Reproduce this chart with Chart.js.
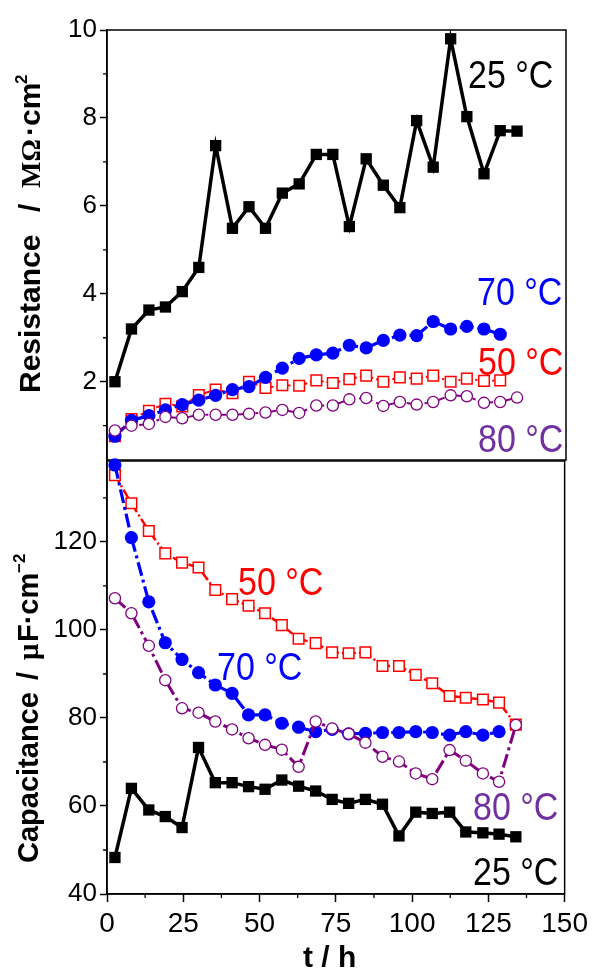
<!DOCTYPE html>
<html>
<head>
  <meta charset="utf-8" />
  <title>Resistance and capacitance vs. time</title>
  <script src="https://cdn.jsdelivr.net/npm/chart.js"></script>
  <style>
    html, body {
      margin: 0;
      padding: 0;
      background: #fff;
    }
    .wrap {
      position: relative;
      width: 593px;
      height: 970px;
    }
    .wrap canvas {
      position: absolute;
      left: 0;
      top: 0;
    }
  </style>
</head>
<body>
  <div class="wrap">
    <canvas id="topChart" width="593" height="970"></canvas>
    <canvas id="bottomChart" width="593" height="970"></canvas>
  </div>

  <script>
    // time axis (h), shared by all series
    const timeH = [2.6, 8, 13.7, 19.1, 24.6, 30, 35.5, 41, 46.4, 51.8, 57.3, 62.8, 68.4,
                   73.8, 79.2, 84.7, 90.3, 95.7, 101.2, 106.6, 112.3, 117.6, 123.2, 128.5, 134];

    // Resistance / MOhm.cm2
    const res25 = [2.0, 3.2, 3.63, 3.7, 4.05, 4.6, 7.37, 5.49, 5.98, 5.49, 6.29, 6.5, 7.17,
                   7.17, 5.53, 7.07, 6.47, 5.96, 7.94, 6.88, 9.8, 8.03, 6.73, 7.71, 7.7];
    const res50 = [0.76, 1.15, 1.34, 1.5, 1.44, 1.7, 1.82, 1.74, 2.0, 1.86, 1.92, 1.91, 2.03,
                   1.97, 2.06, 2.14, 2.0, 2.1, 2.07, 2.14, 2.0, 2.07, 2.02, 2.03];
    const res70 = [0.76, 1.12, 1.23, 1.36, 1.48, 1.58, 1.69, 1.82, 1.89, 2.1, 2.31, 2.53, 2.61,
                   2.65, 2.83, 2.77, 2.94, 3.06, 3.05, 3.37, 3.2, 3.26, 3.2, 3.08];
    const res80 = [0.89, 1.0, 1.04, 1.2, 1.17, 1.25, 1.25, 1.25, 1.27, 1.3, 1.36, 1.29, 1.46,
                   1.46, 1.6, 1.63, 1.45, 1.54, 1.48, 1.54, 1.69, 1.67, 1.52, 1.54, 1.64];

    // Capacitance / uF.cm-2
    const cap25 = [48.3, 64.0, 59.1, 57.6, 55.1, 73.3, 65.3, 65.3, 64.4, 63.8, 65.9, 64.5, 63.4,
                   61.5, 60.6, 61.5, 60.4, 53.2, 58.6, 58.3, 58.6, 54.1, 53.9, 53.6, 53.0];
    const cap50 = [135.2, 128.8, 122.5, 117.4, 115.3, 114.2, 109.1, 107.0, 105.5, 103.8, 101.1, 98.0, 97.0,
                   94.9, 94.7, 94.9, 91.8, 91.8, 89.8, 87.9, 85.0, 84.6, 84.2, 83.5, 78.5];
    const cap70 = [137.5, 121.0, 106.4, 97.1, 93.3, 90.3, 87.5, 85.6, 80.7, 80.7, 78.8, 77.9, 76.9,
                   77.4, 76.4, 76.5, 76.7, 76.7, 76.9, 76.7, 76.1, 76.9, 76.1, 76.9];
    const cap80 = [107.2, 103.8, 96.4, 88.6, 82.2, 81.2, 79.2, 77.4, 75.4, 73.9, 72.8, 68.9, 79.2,
                   77.6, 76.4, 74.4, 71.2, 70.1, 67.4, 66.1, 72.7, 70.3, 67.4, 65.5, 78.4];

    // ticks
    const xTicksMinor = [12.5, 37.5, 62.5, 87.5, 112.5, 137.5];
    const resTicksMinor = [1, 3, 5, 7, 9];
    const capTicksMinor = [50, 70, 90, 110, 130];

    const SANS = '"Liberation Sans", Arial, sans-serif';
    const SERIF = '"Liberation Serif", "Times New Roman", serif';

    // zusammen mit timeH zu {x,y} Punkten
    function toPoints(values) {
      return values.map((v, i) => ({ x: timeH[i], y: v }));
    }

    // Linienstil pro Temperatur
    const styles = {
      t25: { color: '#000000', dash: [], width: 3.5, pointStyle: 'rect', radius: 8, fill: '#000000', pbw: 0 },
      t50: { color: '#ff0000', dash: [9, 3, 2, 3], width: 2.5, pointStyle: 'rect', radius: 7.5, fill: '#ffffff', pbw: 1.5 },
      t70: { color: '#0000ff', dash: [14, 4, 3, 4], width: 3.2, pointStyle: 'circle', radius: 6.6, fill: '#0000ff', pbw: 0 },
      t80: { color: '#800080', dash: [14, 4, 3, 4], width: 3, pointStyle: 'circle', radius: 5.6, fill: '#ffffff', pbw: 1.3 }
    };

    function series(label, values, st) {
      return {
        label: label,
        data: toPoints(values),
        borderColor: st.color,
        borderWidth: st.width,
        borderDash: st.dash,
        pointStyle: st.pointStyle,
        pointRadius: st.radius,
        pointBackgroundColor: st.fill,
        pointBorderColor: st.color,
        pointBorderWidth: st.pbw,
        tension: 0,
        clip: false
      };
    }

    // Rahmen um die Plotfläche
    const framePlugin = {
      id: 'frame',
      beforeDatasetsDraw(chart) {
        const a = chart.chartArea;
        const ctx = chart.ctx;
        ctx.save();
        ctx.strokeStyle = '#000';
        ctx.lineWidth = 1.5;
        ctx.strokeRect(a.left, a.top, a.right - a.left, a.bottom - a.top);

        // kleine Zwischenticks
        const opt = chart.options.plugins.frame || {};
        ctx.lineWidth = 1.3;
        ctx.beginPath();
        (opt.xMinor || []).forEach(v => {
          const px = chart.scales.x.getPixelForValue(v);
          ctx.moveTo(px, a.bottom);
          ctx.lineTo(px, a.bottom + 4);
        });
        (opt.yMinor || []).forEach(v => {
          const py = chart.scales.y.getPixelForValue(v);
          ctx.moveTo(a.left, py);
          ctx.lineTo(a.left - 4, py);
        });
        ctx.stroke();
        ctx.restore();
      }
    };

    // Beschriftungen "25 °C" usw. und Achsentitel
    const labelPlugin = {
      id: 'tempLabels',
      afterDraw(chart) {
        const items = chart.options.plugins.tempLabels.items || [];
        const ctx = chart.ctx;
        items.forEach(it => {
          ctx.save();
          ctx.translate(it.x, it.y);
          ctx.scale(1, 1.15);
          ctx.font = '34px ' + SANS;
          ctx.fillStyle = it.color;
          ctx.textAlign = 'left';
          ctx.textBaseline = 'alphabetic';
          ctx.fillText(it.text, 0, 0);
          ctx.restore();
        });

        const titles = chart.options.plugins.tempLabels.titles || [];
        titles.forEach(p => {
          ctx.save();
          ctx.fillStyle = '#000';
          ctx.font = p.font;
          ctx.textAlign = 'left';
          ctx.textBaseline = 'alphabetic';
          if (p.vertical) {
            ctx.translate(p.x, p.y);
            ctx.rotate(-Math.PI / 2);
            ctx.fillText(p.text, 0, 0);
          } else {
            ctx.fillText(p.text, p.x, p.y);
          }
          ctx.restore();
        });
      }
    };

    function yAxis(min, max, step) {
      return {
        type: 'linear',
        min: min,
        max: max,
        afterFit(scale) { scale.width = 107; },
        ticks: {
          stepSize: step,
          includeBounds: false,
          color: '#000',
          padding: 3,
          font: { family: SANS, size: 26 }
        },
        grid: { drawOnChartArea: false, tickLength: 7, tickWidth: 1.5, tickColor: '#000' },
        border: { color: '#000', width: 1.5 }
      };
    }

    // ========== oben: Resistance ==========
    new Chart(document.getElementById('topChart'), {
      type: 'line',
      data: {
        datasets: [
          series('80 °C', res80, { ...styles.t80, width: 2 }),
          series('70 °C', res70, styles.t70),
          series('50 °C', res50, { ...styles.t50, width: 2 }),
          series('25 °C', res25, styles.t25)
        ]
      },
      options: {
        responsive: false,
        animation: false,
        layout: { padding: { left: 0, top: 30, right: 27, bottom: 510 } },
        plugins: {
          legend: { display: false },
          tooltip: { enabled: false },
          frame: { yMinor: resTicksMinor },
          tempLabels: {
            items: [
              { text: '25 °C', color: '#000000', x: 468, y: 88 },
              { text: '70 °C', color: '#0000ff', x: 477, y: 305 },
              { text: '50 °C', color: '#ff0000', x: 478, y: 375 },
              { text: '80 °C', color: '#7030a0', x: 478, y: 452 }
            ],
            titles: [
              { text: 'Resistance', font: 'bold 30px ' + SANS, x: 40, y: 393, vertical: true },
              { text: '/', font: 'bold 30px ' + SANS, x: 40, y: 212, vertical: true },
              { text: 'MΩ', font: 'bold 28px ' + SERIF, x: 40, y: 188, vertical: true },
              { text: '·cm', font: 'bold 30px ' + SANS, x: 40, y: 136, vertical: true },
              { text: '2', font: 'bold 17px ' + SANS, x: 27, y: 84, vertical: true }
            ]
          }
        },
        scales: {
          x: { type: 'linear', min: 0, max: 150, display: false },
          y: yAxis(0.22, 10, 2)
        }
      },
      plugins: [framePlugin, labelPlugin]
    });

    // ========== unten: Capacitance ==========
    new Chart(document.getElementById('bottomChart'), {
      type: 'line',
      data: {
        datasets: [
          series('80 °C', cap80, styles.t80),
          series('70 °C', cap70, styles.t70),
          series('50 °C', cap50, styles.t50),
          series('25 °C', cap25, styles.t25)
        ]
      },
      options: {
        responsive: false,
        animation: false,
        layout: { padding: { left: 0, top: 461, right: 26, bottom: 0 } },
        plugins: {
          legend: { display: false },
          tooltip: { enabled: false },
          frame: { xMinor: xTicksMinor, yMinor: capTicksMinor },
          tempLabels: {
            items: [
              { text: '50 °C', color: '#ff0000', x: 238, y: 595 },
              { text: '70 °C', color: '#0000ff', x: 217, y: 680 },
              { text: '80 °C', color: '#7030a0', x: 473, y: 820 },
              { text: '25 °C', color: '#000000', x: 473, y: 885 }
            ],
            titles: [
              { text: 'Capacitance', font: 'bold 29px ' + SANS, x: 38, y: 863, vertical: true },
              { text: '/', font: 'bold 29px ' + SANS, x: 38, y: 680, vertical: true },
              { text: 'μ', font: 'bold 29px ' + SERIF, x: 38, y: 660, vertical: true },
              { text: 'F·cm', font: 'bold 29px ' + SANS, x: 38, y: 642, vertical: true },
              { text: '−2', font: 'bold 17px ' + SANS, x: 25, y: 573, vertical: true },
              { text: 't / h', font: 'bold 30px ' + SANS, x: 303, y: 967, vertical: false }
            ]
          }
        },
        scales: {
          x: {
            type: 'linear',
            min: 0,
            max: 150,
            afterFit(scale) { scale.height = 76; },
            ticks: {
              stepSize: 25,
              color: '#000',
              padding: 5,
              maxRotation: 0,
              font: { family: SANS, size: 28 }
            },
            grid: { drawOnChartArea: false, tickLength: 8, tickWidth: 1.5, tickColor: '#000' },
            border: { color: '#000', width: 1.5 }
          },
          y: yAxis(40, 138.4, 20)
        }
      },
      plugins: [framePlugin, labelPlugin]
    });
  </script>
</body>
</html>
